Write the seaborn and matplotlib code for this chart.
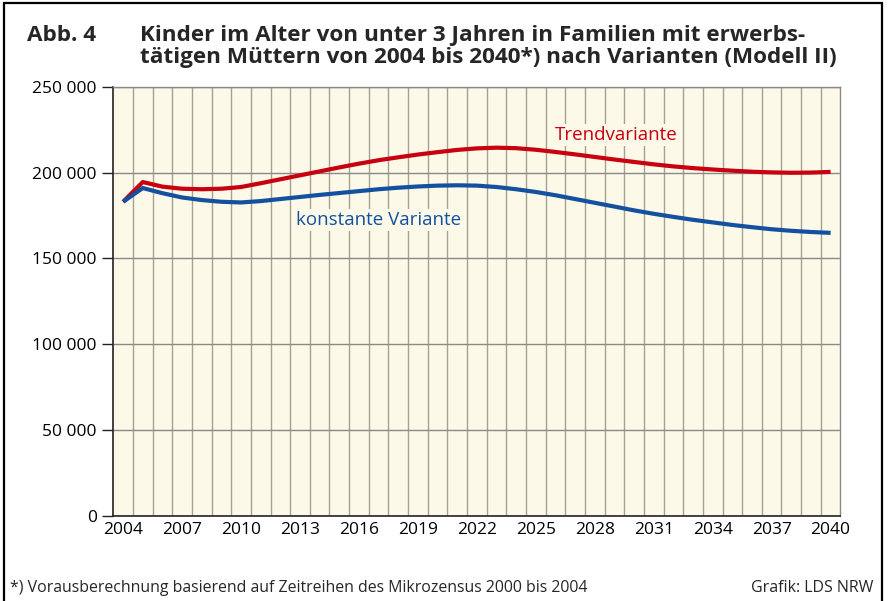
import numpy as np
import pandas as pd
import matplotlib
matplotlib.use("Agg")
import matplotlib.pyplot as plt
import seaborn as sns
from matplotlib.patches import Rectangle

years = list(range(2004, 2041))
trend = [183.0, 194.5, 191.8, 190.6, 190.3, 190.6, 191.6, 193.8, 196.1, 198.4,
         200.7, 203.0, 205.2, 207.2, 208.9, 210.5, 211.9, 213.2, 214.1, 214.5,
         214.2, 213.3, 212.0, 210.6, 209.1, 207.6, 206.2, 204.8, 203.6, 202.6,
         201.8, 201.1, 200.5, 200.1, 199.9, 200.0, 200.4]
konstant = [183.0, 191.0, 188.0, 185.5, 184.0, 183.0, 182.6, 183.4, 184.6, 185.8,
            187.0, 188.1, 189.2, 190.3, 191.2, 191.9, 192.4, 192.6, 192.4, 191.6,
            190.3, 188.7, 186.8, 184.6, 182.4, 180.2, 178.0, 176.0, 174.2, 172.5,
            171.0, 169.5, 168.2, 167.0, 166.1, 165.4, 164.9]
series_names = ["Trendvariante", "konstante Variante"]
y_ticks = [0, 50000, 100000, 150000, 200000, 250000]
y_tick_labels = ["0", "50 000", "100 000", "150 000", "200 000", "250 000"]
x_ticks = list(range(2004, 2041, 3)) + [2040]
x_ticks = sorted(set(x_ticks))

title_abb = "Abb. 4"
title_line1 = "Kinder im Alter von unter 3 Jahren in Familien mit erwerbs-"
title_line2 = "tätigen Müttern von 2004 bis 2040*) nach Varianten (Modell II)"
footnote = "*) Vorausberechnung basierend auf Zeitreihen des Mikrozensus 2000 bis 2004"
source = "Grafik: LDS NRW"

df = pd.DataFrame({
    "Jahr": years * 2,
    "Wert": [v * 1000 for v in trend] + [v * 1000 for v in konstant],
    "Variante": [series_names[0]] * len(years) + [series_names[1]] * len(years),
})

sns.set_theme(style="white")
plt.rcParams["font.family"] = ["Open Sans", "DejaVu Sans"]

RED = "#c8000f"
BLUE = "#1350a0"
BG = "#fcf9e8"

fig = plt.figure(figsize=(8.9, 6.01), dpi=100)
ax = fig.add_axes([0.1273, 0.1414, 0.9443 - 0.1273, 0.8557 - 0.1414])
ax.set_facecolor(BG)

sns.lineplot(data=df, x="Jahr", y="Wert", hue="Variante",
             palette={series_names[0]: RED, series_names[1]: BLUE},
             linewidth=3.0, legend=False, ax=ax, zorder=3)
for line in ax.lines:
    line.set_solid_capstyle("butt")

ax.set_xlim(2003.5, 2040.5)
ax.set_ylim(0, 250000)

# vertical grid lines at cell boundaries
for xb in np.arange(2004.5, 2040.5, 1.0):
    ax.axvline(xb, color="#a6a194", linewidth=1.0, zorder=1)
for yv in y_ticks[1:]:
    ax.axhline(yv, color="#8a8a8a", linewidth=1.0, zorder=1)

ax.set_yticks(y_ticks)
ax.set_yticklabels(y_tick_labels, fontsize=12.5)
ax.set_xticks(x_ticks)
ax.set_xticklabels([str(x) for x in x_ticks], fontsize=12.5)
ax.tick_params(axis="y", direction="out", length=8, width=1.0, color="#222222",
               left=True, pad=4, labelcolor="black")
ax.tick_params(axis="x", length=0, pad=4, labelcolor="black")
ax.set_xlabel("")
ax.set_ylabel("")

for side in ["left", "bottom"]:
    ax.spines[side].set_color("#222222")
    ax.spines[side].set_linewidth(1.2)
for side in ["top", "right"]:
    ax.spines[side].set_visible(True)
    ax.spines[side].set_color("#8a8a8a")
    ax.spines[side].set_linewidth(1.0)

ax.text(2029.1, 222000, series_names[0], color=RED, fontsize=13.5,
        ha="center", va="center", zorder=4,
        bbox=dict(facecolor=BG, edgecolor="none", pad=1.5))
ax.text(2017.0, 172500, series_names[1], color=BLUE, fontsize=13.5,
        ha="center", va="center", zorder=4,
        bbox=dict(facecolor=BG, edgecolor="none", pad=1.5))

fig.text(27 / 890, 1 - 40.7 / 601, title_abb, fontsize=16.2, fontweight="bold",
         ha="left", va="baseline")
fig.text(140 / 890, 1 - 40.7 / 601, title_line1, fontsize=16.2, fontweight="bold",
         ha="left", va="baseline")
fig.text(140 / 890, 1 - 63.3 / 601, title_line2, fontsize=16.2, fontweight="bold",
         ha="left", va="baseline")

fig.text(10 / 890, 1 - 592 / 601, footnote, fontsize=11.4, ha="left", va="baseline")
fig.text(873 / 890, 1 - 592 / 601, source, fontsize=11.5, ha="right", va="baseline")

fig.patches.append(Rectangle((3.5 / 890, -0.05), (881.5 - 3.5) / 890, 1.05 - 3.5 / 601,
                             transform=fig.transFigure, fill=False,
                             edgecolor="black", linewidth=1.6, zorder=10))

fig.savefig("out.png", dpi=100, facecolor="white")
